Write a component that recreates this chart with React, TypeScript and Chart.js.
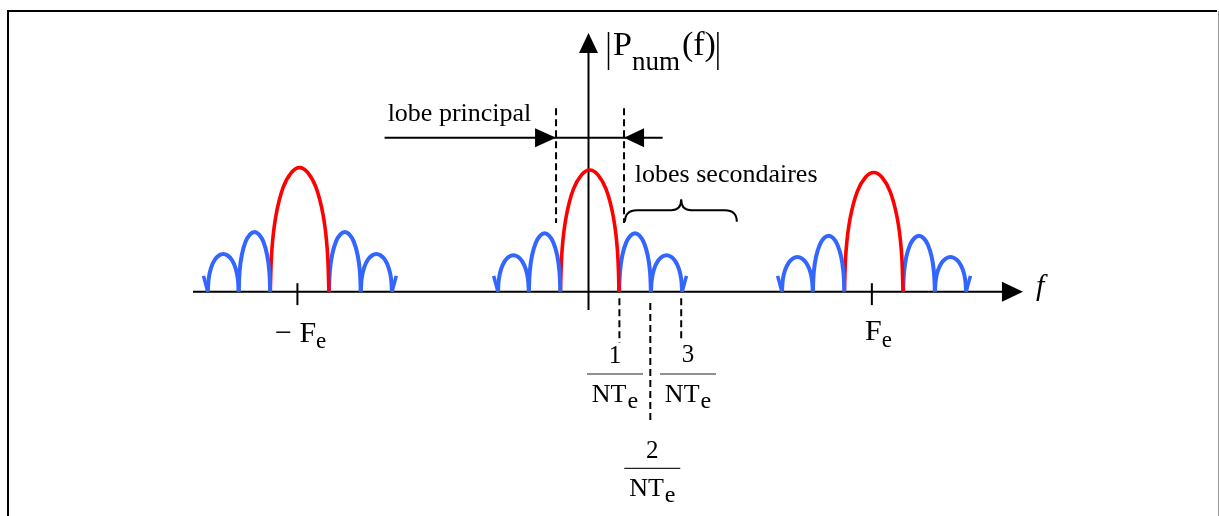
import { useEffect, useRef } from 'react';
import { Chart, registerables } from 'chart.js';

Chart.register(...registerables);

// ---- data (x in units of 1/NTe, y relative to main-lobe peak) ----
const groupCentres = [-9.35, 0.04, 9.23];
const lobeEdges = [-2.97, -1.97, -0.95, 0.95, 1.98, 2.99];
const leftGroupHeights = [0.31, 0.49, 1.02, 0.49, 0.31];
const centreGroupHeights = [0.3, 0.48, 1.0, 0.48, 0.3];
const rightGroupHeights = [0.285, 0.46, 0.98, 0.46, 0.285];
const lobeProfileT = [0, 0.03, 0.1, 0.22, 0.36, 0.5, 0.64, 0.78, 0.9, 0.97, 1];
const lobeProfileH = [0, 0.35, 0.62, 0.84, 0.96, 1, 0.96, 0.84, 0.62, 0.35, 0];
const endHook = [0.14, 0.13];
const feTicks = [-9.42, 9.17];
const feLabels = ['− F', 'F'];
const nteTicks = [1, 2, 3];
const nteNumerators = ['1', '2', '3'];
const mainLobeMarks = [-1.05, 1.15];

const BLUE = '#3366ff';
const RED = '#ff0000';
const FONT = '"Liberation Serif", "Times New Roman", serif';

const X_MIN = -19.045;
const X_MAX = 20.404;
const Y_MIN = -1.843;
const Y_MAX = 2.397;

function buildDatasets() {
  const heights = [leftGroupHeights, centreGroupHeights, rightGroupHeights];
  const ds: any[] = [];
  groupCentres.forEach((c, g) => {
    const h = heights[g];
    for (let i = 0; i < 5; i++) {
      const a = c + lobeEdges[i];
      const b = c + lobeEdges[i + 1];
      const pts = lobeProfileT.map((t, k) => ({ x: a + t * (b - a), y: h[i] * lobeProfileH[k] }));
      ds.push({
        data: pts,
        borderColor: i === 2 ? RED : BLUE,
        borderWidth: i === 2 ? 3.6 : 4,
        tension: 0.4,
        showLine: true,
        pointRadius: 0,
        fill: false,
        borderCapStyle: 'butt',
        borderJoinStyle: 'miter',
      });
    }
    const l = c + lobeEdges[0];
    const r = c + lobeEdges[5];
    ds.push({
      data: [{ x: l - endHook[0], y: endHook[1] }, { x: l, y: 0 }],
      borderColor: BLUE, borderWidth: 3.5, tension: 0, showLine: true, pointRadius: 0,
    });
    ds.push({
      data: [{ x: r, y: 0 }, { x: r + endHook[0], y: endHook[1] }],
      borderColor: BLUE, borderWidth: 3.5, tension: 0, showLine: true, pointRadius: 0,
    });
  });
  return ds;
}

function arrowHead(ctx: CanvasRenderingContext2D, tx: number, ty: number, dx: number, dy: number, len: number, half: number) {
  const bx = tx - dx * len;
  const by = ty - dy * len;
  ctx.beginPath();
  ctx.moveTo(tx, ty);
  ctx.lineTo(bx - dy * half, by + dx * half);
  ctx.lineTo(bx + dy * half, by - dx * half);
  ctx.closePath();
  ctx.fill();
}

function line(ctx: CanvasRenderingContext2D, x1: number, y1: number, x2: number, y2: number) {
  ctx.beginPath();
  ctx.moveTo(x1, y1);
  ctx.lineTo(x2, y2);
  ctx.stroke();
}

function subText(ctx: CanvasRenderingContext2D, x: number, y: number, main: string, sub: string, size: number, subSize: number, subDy: number, gap = 0) {
  ctx.font = `${size}px ${FONT}`;
  ctx.fillText(main, x, y);
  const w = ctx.measureText(main).width;
  ctx.font = `${subSize}px ${FONT}`;
  ctx.fillText(sub, x + w + gap, y + subDy);
  return x + w + gap + ctx.measureText(sub).width;
}

function subWidth(ctx: CanvasRenderingContext2D, main: string, sub: string, size: number, subSize: number, gap = 0) {
  ctx.font = `${size}px ${FONT}`;
  const w = ctx.measureText(main).width;
  ctx.font = `${subSize}px ${FONT}`;
  return w + gap + ctx.measureText(sub).width;
}

const axesPlugin = {
  id: 'axesDecor',
  beforeDatasetsDraw(chart: any) {
    const ctx: CanvasRenderingContext2D = chart.ctx;
    const X = (v: number) => chart.scales.x.getPixelForValue(v);
    const Y = (v: number) => chart.scales.y.getPixelForValue(v);
    ctx.save();
    ctx.strokeStyle = '#000';
    ctx.fillStyle = '#000';
    ctx.lineWidth = 2;
    // horizontal axis
    line(ctx, X(-12.8), Y(0), X(14.06) - 18, Y(0));
    arrowHead(ctx, X(14.06), Y(0), 1, 0, 21, 10);
    // vertical axis
    line(ctx, X(0), Y(-0.15), X(0), Y(2.126) + 18);
    arrowHead(ctx, X(0), Y(2.126), 0, -1, 20, 9.5);
    // Fe ticks
    feTicks.forEach((v) => line(ctx, X(v), Y(0.07), X(v), Y(-0.11)));
    ctx.restore();
  },
  afterDraw(chart: any) {
    const ctx: CanvasRenderingContext2D = chart.ctx;
    const X = (v: number) => chart.scales.x.getPixelForValue(v);
    const Y = (v: number) => chart.scales.y.getPixelForValue(v);
    ctx.save();
    ctx.strokeStyle = '#000';
    ctx.fillStyle = '#000';
    ctx.textBaseline = 'alphabetic';

    // frame
    ctx.lineWidth = 2;
    ctx.beginPath();
    ctx.moveTo(8, 530);
    ctx.lineTo(8, 11);
    ctx.lineTo(1217, 11);
    ctx.stroke();
    ctx.strokeStyle = '#999';
    ctx.lineWidth = 1;
    line(ctx, 1218.5, 11, 1218.5, 516);
    ctx.strokeStyle = '#000';

    // main lobe markers (dashed)
    ctx.lineWidth = 2;
    ctx.setLineDash([7, 4]);
    mainLobeMarks.forEach((v) => line(ctx, X(v), Y(1.508), X(v), Y(0.565)));
    // 1/NTe dashed markers
    line(ctx, X(nteTicks[0]), Y(-0.053), X(nteTicks[0]), Y(-0.42));
    line(ctx, X(nteTicks[1]), Y(-0.093), X(nteTicks[1]), Y(-1.054));
    line(ctx, X(nteTicks[2]), Y(-0.053), X(nteTicks[2]), Y(-0.415));
    ctx.setLineDash([]);

    // lobe principal arrows (one continuous line, two inward heads)
    const ay = Y(1.265);
    line(ctx, X(-6.6), ay, X(2.4), ay);
    arrowHead(ctx, X(mainLobeMarks[0]), ay, 1, 0, 21, 9.5);
    arrowHead(ctx, X(mainLobeMarks[1]), ay, -1, 0, 20, 9.5);

    // brace
    const bx1 = X(1.18), bx2 = X(4.8), bmx = X(3.0);
    const by0 = Y(0.575), by1 = Y(0.67), byt = Y(0.76);
    ctx.lineWidth = 2;
    ctx.beginPath();
    ctx.moveTo(bx1, by0);
    ctx.quadraticCurveTo(bx1, by1, bx1 + 12, by1);
    ctx.lineTo(bmx - 10, by1);
    ctx.quadraticCurveTo(bmx, by1, bmx, byt);
    ctx.quadraticCurveTo(bmx, by1, bmx + 10, by1);
    ctx.lineTo(bx2 - 12, by1);
    ctx.quadraticCurveTo(bx2, by1, bx2, by0);
    ctx.stroke();

    // texts
    ctx.font = `26px ${FONT}`;
    ctx.textAlign = 'left';
    ctx.fillText('lobe principal', X(-6.5), Y(1.4));
    ctx.fillText('lobes secondaires', X(1.5), Y(0.905));

    // |Pnum(f)|
    const px = X(0);
    ctx.lineWidth = 1.5;
    line(ctx, px + 20, 32, px + 20, 70);
    let ex = subText(ctx, px + 24.5, 55, 'P', 'num', 34, 27, 15, 0);
    ctx.font = `34px ${FONT}`;
    ctx.fillText('(f)', ex + 2, 55);
    ex = ex + 2 + ctx.measureText('(f)').width;
    line(ctx, ex + 2, 32, ex + 2, 70);

    // f axis label
    ctx.font = `italic 30px ${FONT}`;
    ctx.fillText('f', X(14.06) + 13, Y(0) + 3.5);

    // Fe labels
    subText(ctx, X(feTicks[0]) - 22.4, 341.7, feLabels[0], 'e', 30, 23, 6.5, 0);
    subText(ctx, X(feTicks[1]) - 6.9, 340, feLabels[1], 'e', 30, 23, 6.5, 0);

    // fractions k / NTe
    const fracLayout = [
      { dx: -4.4, barY: 374, numDy: -11 },
      { dx: 2.0, barY: 468.3, numDy: -10.3 },
      { dx: 6.8, barY: 374, numDy: -12 },
    ];
    nteTicks.forEach((v, i) => {
      const L = fracLayout[i];
      const cx = X(v) + L.dx;
      ctx.lineWidth = 1.2;
      ctx.strokeStyle = '#222';
      line(ctx, cx - 28, L.barY, cx + 28, L.barY);
      ctx.font = `25px ${FONT}`;
      ctx.textAlign = 'center';
      ctx.fillText(nteNumerators[i], cx, L.barY + L.numDy);
      ctx.textAlign = 'left';
      const w = subWidth(ctx, 'NT', 'e', 26, 24, 1);
      subText(ctx, cx - w / 2, L.barY + 27.7, 'NT', 'e', 26, 24, 6, 1);
    });

    ctx.restore();
  },
};

export default function App() {
  const ref = useRef<HTMLCanvasElement | null>(null);
  useEffect(() => {
    if (!ref.current) return;
    const chart = new Chart(ref.current, {
      type: 'scatter',
      data: { datasets: buildDatasets() },
      options: {
        responsive: false,
        maintainAspectRatio: false,
        devicePixelRatio: 1,
        animation: false,
        events: [],
        layout: { padding: 0 },
        plugins: { legend: { display: false }, tooltip: { enabled: false }, title: { display: false } },
        scales: {
          x: { type: 'linear', min: X_MIN, max: X_MAX, display: false },
          y: { type: 'linear', min: Y_MIN, max: Y_MAX, display: false },
        },
      } as any,
      plugins: [axesPlugin],
    });
    return () => chart.destroy();
  }, []);
  return (
    <div style={{ position: 'absolute', left: 0, top: 0, width: 1219, height: 516, background: '#fff' }}>
      <canvas ref={ref} width={1219} height={516} style={{ display: 'block' }} />
    </div>
  );
}
